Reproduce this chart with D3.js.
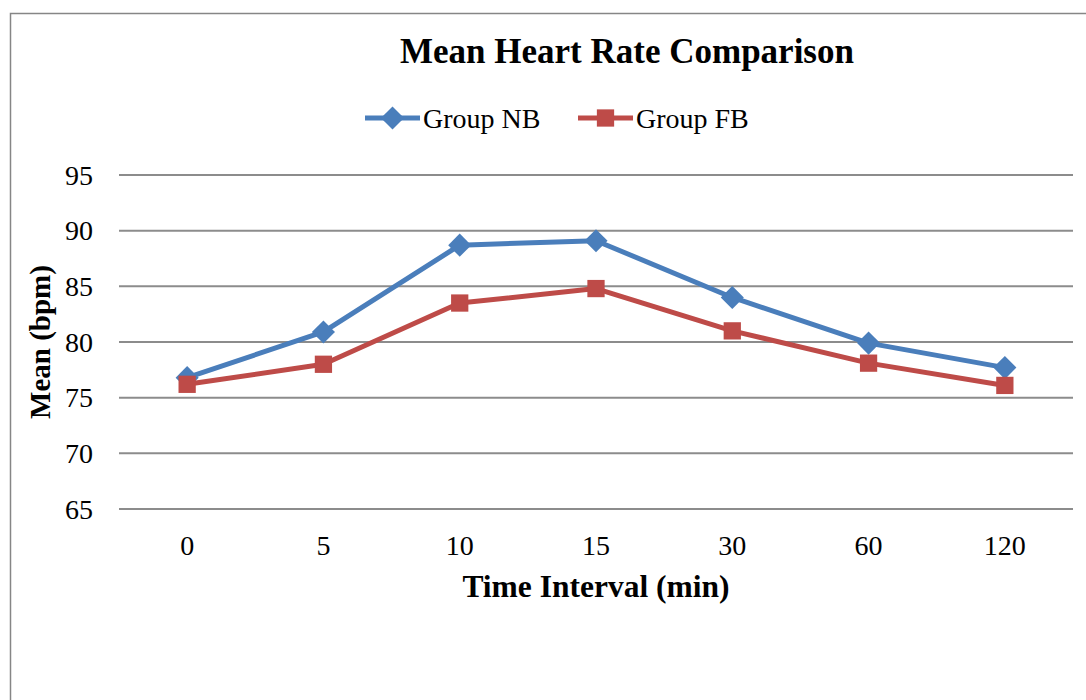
<!DOCTYPE html>
<html>
<head>
<meta charset="utf-8">
<script src="https://cdn.jsdelivr.net/npm/d3@7"></script>
<style>
  html, body { margin: 0; padding: 0; background: #fff; overflow: hidden; }
  svg { display: block; font-family: "Liberation Serif", "Times New Roman", serif; }
</style>
</head>
<body>
<div id="chart"></div>
<script>
const width = 1086;
const height = 700;

const timeLabels = ["0", "5", "10", "15", "30", "60", "120"];
const groupNB = [76.8, 80.9, 88.7, 89.1, 84.0, 79.9, 77.7];
const groupFB = [76.2, 78.0, 83.5, 84.8, 81.0, 78.1, 76.1];
const yTicks = [65, 70, 75, 80, 85, 90, 95];

const series = [
  { name: "Group NB", values: groupNB, color: "#4a7ebb", marker: "diamond" },
  { name: "Group FB", values: groupFB, color: "#be4b48", marker: "square" },
];

const plot = { left: 119, right: 1073, top: 175, bottom: 509 };

const svg = d3.select("#chart")
  .append("svg")
  .attr("width", width)
  .attr("height", height);

// outer frame (right/bottom edges run off the page)
svg.append("rect")
  .attr("x", 10.5)
  .attr("y", 13.5)
  .attr("width", 1200)
  .attr("height", 800)
  .attr("fill", "none")
  .attr("stroke", "#868686")
  .attr("stroke-width", 1.5);

const x = d3.scaleBand()
  .domain(timeLabels)
  .range([plot.left, plot.right]);

const y = d3.scaleLinear()
  .domain([65, 95])
  .range([plot.bottom, plot.top]);

// gridlines
svg.append("g")
  .selectAll("line")
  .data(yTicks)
  .join("line")
  .attr("x1", plot.left)
  .attr("x2", plot.right)
  .attr("y1", d => y(d))
  .attr("y2", d => y(d))
  .attr("stroke", "#8c8c8c")
  .attr("stroke-width", 2);

// y tick labels
svg.append("g")
  .selectAll("text")
  .data(yTicks)
  .join("text")
  .attr("x", 93)
  .attr("y", d => y(d))
  .attr("dy", "0.35em")
  .attr("text-anchor", "end")
  .attr("font-size", 28)
  .attr("fill", "#000")
  .text(d => d);

// x tick labels
svg.append("g")
  .selectAll("text")
  .data(timeLabels)
  .join("text")
  .attr("x", d => x(d) + x.bandwidth() / 2)
  .attr("y", 555)
  .attr("text-anchor", "middle")
  .attr("font-size", 28)
  .attr("fill", "#000")
  .text(d => d);

// axis titles
svg.append("text")
  .attr("x", (plot.left + plot.right) / 2)
  .attr("y", 597)
  .attr("text-anchor", "middle")
  .attr("font-size", 31.5)
  .attr("font-weight", "bold")
  .text("Time Interval (min)");

svg.append("text")
  .attr("transform", `translate(50, ${(plot.top + plot.bottom) / 2}) rotate(-90)`)
  .attr("text-anchor", "middle")
  .attr("font-size", 29)
  .attr("font-weight", "bold")
  .text("Mean (bpm)");

// title
svg.append("text")
  .attr("x", 627)
  .attr("y", 63)
  .attr("text-anchor", "middle")
  .attr("font-size", 35)
  .attr("font-weight", "bold")
  .text("Mean Heart Rate Comparison");

const diamond = d3.symbol().type(d3.symbolDiamond2).size(340);
const square = d3.symbol().type(d3.symbolSquare2).size(380);

function markerPath(kind) {
  return kind === "diamond" ? diamond() : square();
}

const line = d3.line()
  .x((d, i) => x(timeLabels[i]) + x.bandwidth() / 2)
  .y(d => y(d));

series.forEach(s => {
  const g = svg.append("g");
  g.append("path")
    .datum(s.values)
    .attr("d", line)
    .attr("fill", "none")
    .attr("stroke", s.color)
    .attr("stroke-width", 5)
    .attr("stroke-linejoin", "round");

  g.selectAll("path.marker")
    .data(s.values)
    .join("path")
    .attr("class", "marker")
    .attr("d", markerPath(s.marker))
    .attr("transform", (d, i) => `translate(${x(timeLabels[i]) + x.bandwidth() / 2}, ${y(d)})`)
    .attr("fill", s.color);
});

// legend
const legendItems = [
  { s: series[0], x0: 365 },
  { s: series[1], x0: 578 },
];
legendItems.forEach(({ s, x0 }) => {
  const g = svg.append("g").attr("transform", `translate(${x0}, 118)`);
  g.append("line")
    .attr("x1", 0).attr("x2", 55)
    .attr("stroke", s.color)
    .attr("stroke-width", 5);
  g.append("path")
    .attr("d", markerPath(s.marker))
    .attr("transform", "translate(27.5, 0)")
    .attr("fill", s.color);
  g.append("text")
    .attr("x", 58)
    .attr("dy", "0.35em")
    .attr("font-size", 28)
    .text(s.name);
});
</script>
</body>
</html>
